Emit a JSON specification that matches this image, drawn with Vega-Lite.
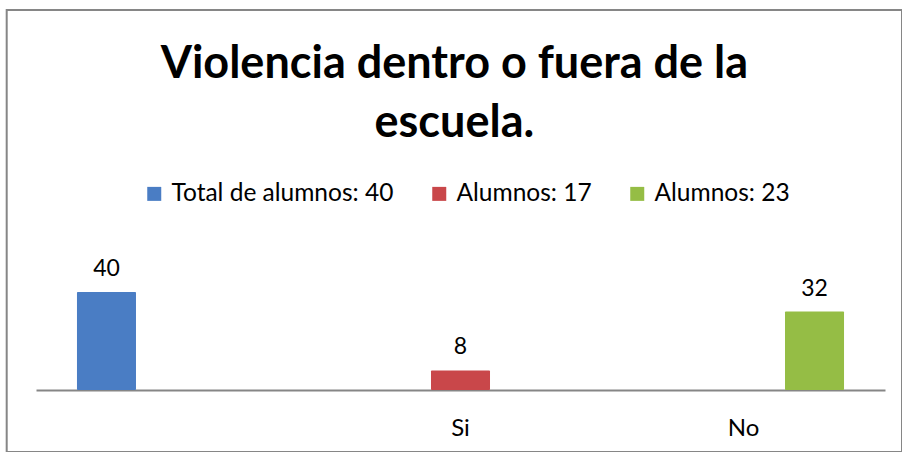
{
  "$schema": "https://vega.github.io/schema/vega-lite/v6.json",
  "autosize": {"type": "none"},
  "padding": {"left": 6.7, "top": 10, "right": 0, "bottom": 0},
  "width": 895.3,
  "height": 442,
  "background": "white",
  "config": {
    "view": {"stroke": "#868686", "strokeWidth": 2},
    "font": "Lato"
  },
  "title": {
    "text": ["Violencia dentro o fuera de la", "escuela."],
    "anchor": "middle",
    "frame": "group",
    "orient": "top",
    "offset": -172,
    "baseline": "alphabetic",
    "font": "Lato",
    "fontWeight": "bold",
    "fontSize": 45,
    "lineHeight": 59,
    "color": "black"
  },
  "data": {
    "values": [
      {"categoria": "", "serie": "Total de alumnos: 40", "valor": 40},
      {"categoria": "Si", "serie": "Alumnos: 17", "valor": 8},
      {"categoria": "No", "serie": "Alumnos: 23", "valor": 32}
    ]
  },
  "encoding": {
    "x": {
      "field": "categoria",
      "type": "nominal",
      "sort": ["", "Si", "No"],
      "scale": {"range": [29.3, 878.3], "paddingInner": 0, "paddingOuter": 0},
      "axis": {
        "orient": "bottom",
        "offset": -62,
        "title": null,
        "labelAngle": 0,
        "ticks": false,
        "domainColor": "#868686",
        "domainWidth": 2,
        "labelFont": "Lato",
        "labelFontSize": 24,
        "labelColor": "black",
        "labelPadding": 26
      }
    },
    "xOffset": {
      "field": "serie",
      "type": "nominal",
      "sort": ["Total de alumnos: 40", "Alumnos: 17", "Alumnos: 23"],
      "scale": {"paddingInner": 0.169, "paddingOuter": 0.577}
    },
    "y": {
      "field": "valor",
      "type": "quantitative",
      "scale": {"domain": [-25.31, 155.1], "nice": false, "zero": false},
      "axis": null
    }
  },
  "layer": [
    {
      "mark": {"type": "bar", "cornerRadius": 1},
      "encoding": {
        "y2": {"datum": 0},
        "color": {
          "field": "serie",
          "type": "nominal",
          "scale": {
            "domain": ["Total de alumnos: 40", "Alumnos: 17", "Alumnos: 23"],
            "range": ["#4a7dc4", "#c9474a", "#95bd45"]
          },
          "legend": {
            "title": null,
            "orient": "none",
            "legendX": 135.3,
            "legendY": 171.5,
            "direction": "horizontal",
            "columns": 3,
            "symbolType": "square",
            "symbolSize": 196,
            "symbolStrokeWidth": 0,
            "symbolOpacity": 1,
            "labelFont": "Lato",
            "labelFontSize": 24.5,
            "labelColor": "black",
            "labelOffset": 5,
            "labelLimit": 400,
            "columnPadding": 33,
            "padding": 0
          }
        }
      }
    },
    {
      "mark": {
        "type": "text",
        "baseline": "alphabetic",
        "dy": -16,
        "font": "Lato",
        "fontSize": 23,
        "color": "black"
      },
      "encoding": {"text": {"field": "valor", "type": "quantitative"}}
    }
  ]
}
